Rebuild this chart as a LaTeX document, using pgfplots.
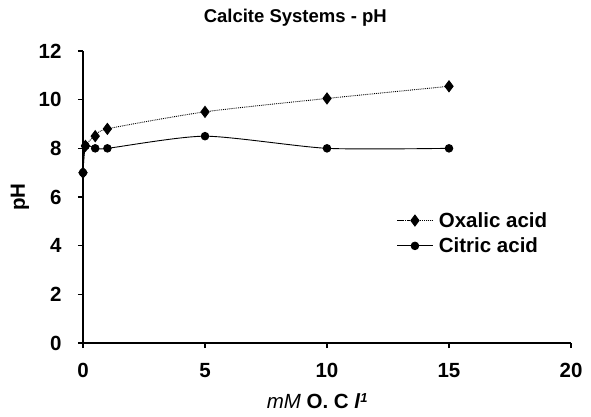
\documentclass[border=0pt]{standalone}
\usepackage{pgfplots}
\pgfplotsset{compat=1.18}
\usepackage{fontspec}
\setmainfont{Liberation Sans}
\begin{document}
\begin{tikzpicture}
\useasboundingbox (-83pt,-73pt) rectangle (508pt,343pt);
\begin{axis}[
    scale only axis, width=488pt, height=292pt,
    xmin=0, xmax=20, ymin=0, ymax=12,
    xtick={0,5,...,20}, ytick={0,2,...,12},
    axis lines=left, axis line style={-, line width=1.6pt},
    tick align=outside, major tick length=5pt,
    tick style={line width=1.4pt, black},
    /pgf/number format/assume math mode=true,
    ticklabel style={font=\fontsize{20.5}{22}\selectfont\bfseries},
    xticklabel style={yshift=-12pt},
    yticklabel style={xshift=-13pt},
    title={\fontsize{18.5}{20}\selectfont\bfseries Calcite Systems - pH},
    title style={at={(0.435,1)}, yshift=15pt},
    ylabel={\fontsize{20.5}{22}\selectfont\bfseries pH},
    ylabel style={at={(axis description cs:-0.129,0.5)}, anchor=center},
    xlabel={\fontsize{20.5}{22}\selectfont{\itshape mM} \textbf{O. C} \textbf{\itshape l}\raisebox{0.6ex}{\fontsize{13}{14}\selectfont\bfseries\itshape 1}},
    xlabel style={at={(axis description cs:0.48,0)}, anchor=north, yshift=-47pt},
    legend style={at={(axis description cs:0.643,0.455)}, anchor=north west, draw=none, fill=none,
        font=\fontsize{20.5}{22}\selectfont\bfseries, row sep=5pt, inner sep=0pt,
        nodes={inner xsep=6pt}},
    legend cell align=left,
    legend image code/.code={\draw[mark repeat=2, mark phase=2, #1]
        plot coordinates {(0pt,0pt) (17.5pt,0pt) (35pt,0pt)};},
    clip=false,
]
\addplot[black, densely dotted, line width=0.9pt, smooth, tension=0.4,
    mark=diamond*, mark size=5.5pt, mark options={solid, fill=black}]
    coordinates {(0,7.0) (0.1,8.1) (0.5,8.5) (1,8.8) (5,9.5) (10,10.05) (15,10.55)};
\addlegendentry{Oxalic acid}
\addplot[black, solid, line width=0.9pt, smooth, tension=0.4,
    mark=*, mark size=3.8pt, mark options={fill=black}]
    coordinates {(0,7.0) (0.1,8.1) (0.5,8.0) (1,8.0) (5,8.5) (10,8.0) (15,8.0)};
\addlegendentry{Citric acid}
\end{axis}
\end{tikzpicture}
\end{document}
